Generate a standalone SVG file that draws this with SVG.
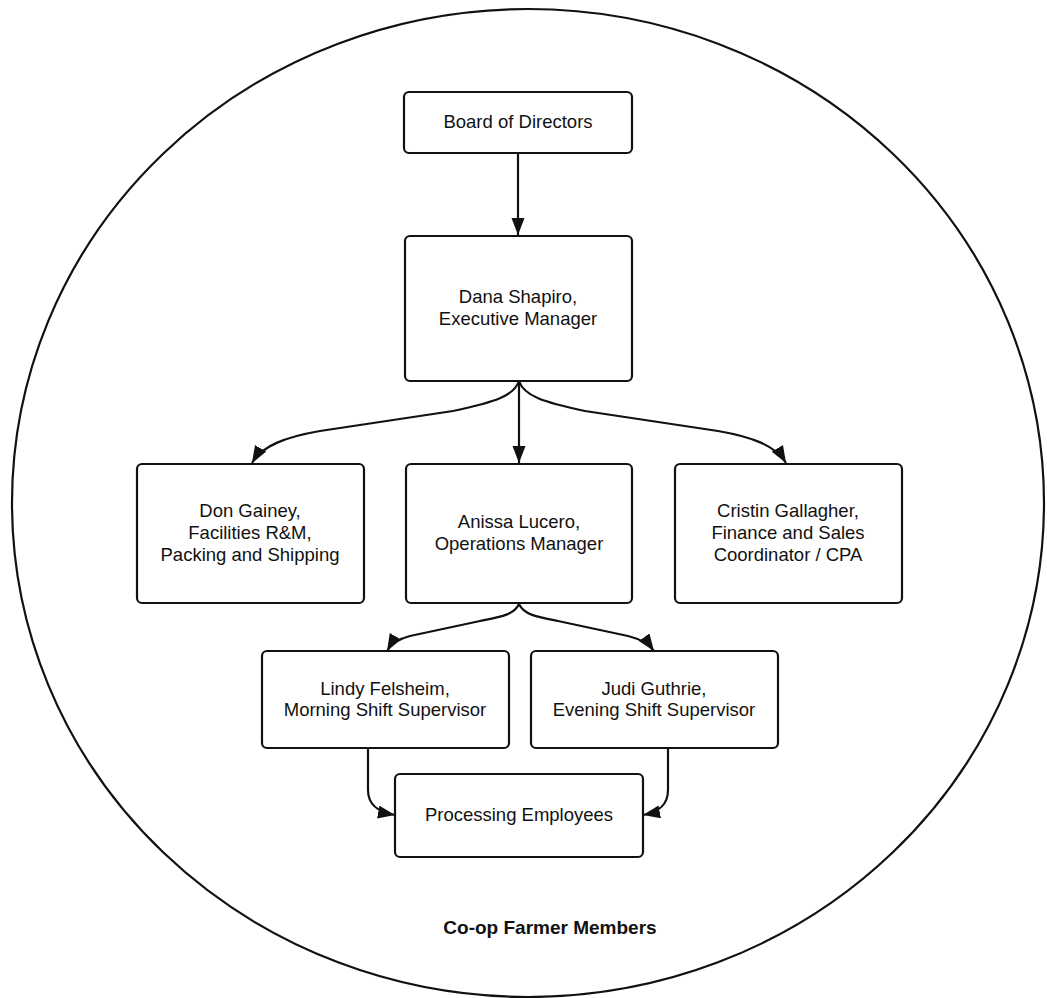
<svg xmlns="http://www.w3.org/2000/svg" width="1047" height="998" viewBox="0 0 1047 998">
<style>
.box{fill:#fff;stroke:#111;stroke-width:2.2}
.t{font-family:"Liberation Sans",Arial,sans-serif;font-size:18.5px;fill:#111;text-anchor:middle}
.b{font-family:"Liberation Sans",Arial,sans-serif;font-size:19px;font-weight:bold;fill:#111;text-anchor:middle}
.c{fill:none;stroke:#111;stroke-width:2.2}
</style>
<defs>
<marker id="ah" markerUnits="userSpaceOnUse" markerWidth="18" markerHeight="14" refX="17" refY="6.5" orient="auto">
<path d="M0,0 L17,6.5 L0,13 z" fill="#111"/>
</marker>
</defs>
<rect width="1047" height="998" fill="#fff"/>
<g id="coop">
<ellipse cx="528" cy="503" rx="516" ry="494" fill="none" stroke="#111" stroke-width="2.2"/>
<text class="b" x="550" y="934">Co-op Farmer Members</text>
</g>
<g id="connectors">
<path class="c" d="M518,153 L518,235" marker-end="url(#ah)"/>
<path class="c" d="M519,381 C514,396 495,402 453,411 L320,431 C285,437 262,446 252,463" marker-end="url(#ah)"/>
<path class="c" d="M519,381 L519,463" marker-end="url(#ah)"/>
<path class="c" d="M519,381 C524,396 543,402 585,411 L718,431 C753,437 776,446 786,463" marker-end="url(#ah)"/>
<path class="c" d="M519,604 C514,615 500,617 480,621 L410,636 C398,639 391,644 387,651" marker-end="url(#ah)"/>
<path class="c" d="M519,604 C524,615 538,617 558,621 L628,636 C640,639 649,644 654,651" marker-end="url(#ah)"/>
<path class="c" d="M368,748 L368,790 C368,805 378,812 395,815" marker-end="url(#ah)"/>
<path class="c" d="M668,748 L668,790 C668,805 659,812 643,815" marker-end="url(#ah)"/>
</g>
<g id="board">
<rect class="box" x="404" y="92" width="228" height="61" rx="5"/>
<text class="t" x="518" y="128">Board of Directors</text>
</g>
<g id="dana">
<rect class="box" x="405" y="236" width="227" height="145" rx="5"/>
<text class="t" x="518" y="303">Dana Shapiro,</text>
<text class="t" x="518" y="325">Executive Manager</text>
</g>
<g id="don">
<rect class="box" x="137" y="464" width="227" height="139" rx="5"/>
<text class="t" x="250" y="517">Don Gainey,</text>
<text class="t" x="250" y="539">Facilities R&amp;M,</text>
<text class="t" x="250" y="561">Packing and Shipping</text>
</g>
<g id="anissa">
<rect class="box" x="406" y="464" width="226" height="139" rx="5"/>
<text class="t" x="519" y="528">Anissa Lucero,</text>
<text class="t" x="519" y="550">Operations Manager</text>
</g>
<g id="cristin">
<rect class="box" x="675" y="464" width="227" height="139" rx="5"/>
<text class="t" x="788" y="517">Cristin Gallagher,</text>
<text class="t" x="788" y="539">Finance and Sales</text>
<text class="t" x="788" y="561">Coordinator / CPA</text>
</g>
<g id="lindy">
<rect class="box" x="262" y="651" width="247" height="97" rx="5"/>
<text class="t" x="385" y="695">Lindy Felsheim,</text>
<text class="t" x="385" y="716">Morning Shift Supervisor</text>
</g>
<g id="judi">
<rect class="box" x="531" y="651" width="247" height="97" rx="5"/>
<text class="t" x="654" y="695">Judi Guthrie,</text>
<text class="t" x="654" y="716">Evening Shift Supervisor</text>
</g>
<g id="processing">
<rect class="box" x="395" y="774" width="248" height="83" rx="5"/>
<text class="t" x="519" y="821">Processing Employees</text>
</g>
</svg>
